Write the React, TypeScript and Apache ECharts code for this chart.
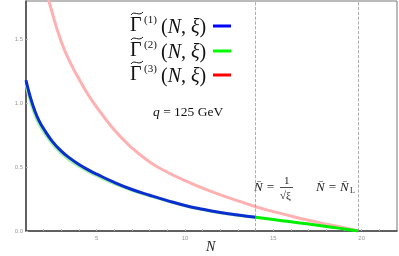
import React, { useEffect, useRef } from "react";
import * as echarts from "echarts";

const xTicks = [5, 10, 15, 20];
const xMinorTicks = [2, 3, 4, 5, 6, 7, 8, 9, 10, 11, 12, 13, 14, 15, 16, 17, 18, 19, 20, 21];
const yTicks = [0, 0.5, 1.0, 1.5];

const gamma1Blue: [number, number][] = [
  [1, 1.18], [1.25, 1.045], [1.5, 0.94], [1.75, 0.86], [2, 0.8], [2.5, 0.7], [3, 0.625], [3.5, 0.568],
  [4, 0.52], [4.5, 0.48], [5, 0.445], [6, 0.38], [7, 0.325], [8, 0.28], [9, 0.238], [10, 0.2],
  [11, 0.17], [12, 0.145], [13, 0.125], [14, 0.107],
];
const gamma2Faded: [number, number][] = [
  [1, 1.15], [1.25, 1.015], [1.5, 0.91], [1.75, 0.833], [2, 0.775], [2.5, 0.68], [3, 0.607], [3.5, 0.552],
  [4, 0.506], [4.5, 0.467], [5, 0.433], [6, 0.37], [7, 0.318], [8, 0.275], [9, 0.235], [10, 0.198],
  [11, 0.168], [12, 0.143], [13, 0.124], [14, 0.107],
];
const gamma2Green: [number, number][] = [
  [14, 0.107], [15, 0.09], [16, 0.072], [17, 0.054], [18, 0.036], [19, 0.016], [19.8, 0],
];
const gamma3Red: [number, number][] = [
  [1, 3.0], [1.5, 2.4], [2, 1.97], [2.5, 1.7], [3, 1.48], [3.5, 1.32], [4, 1.19], [4.5, 1.07],
  [5, 0.97], [6, 0.79], [7, 0.65], [8, 0.54], [9, 0.46], [10, 0.395], [11, 0.335], [12, 0.283],
  [13, 0.236], [14, 0.19], [15, 0.152], [16, 0.117], [17, 0.084], [18, 0.054], [19, 0.025], [19.8, 0],
];
const markerN = [14, 19.8];

const SERIF = "'Liberation Serif', 'DejaVu Serif', serif";

export default function App() {
  const ref = useRef<HTMLDivElement>(null);
  useEffect(() => {
    if (!ref.current) return;
    const chart = echarts.init(ref.current, null, { renderer: "svg" });
    const legendRows = [
      { sup: "(1)", color: "#0000ff", y: 26 },
      { sup: "(2)", color: "#00ff00", y: 51 },
      { sup: "(3)", color: "#ff0000", y: 75 },
    ];
    const graphic: any[] = [];
    legendRows.forEach((r) => {
      graphic.push({
        type: "text", left: 130, top: r.y - 12,
        style: { text: "Γ", font: `20px ${SERIF}`, fill: "#111" },
      });
      graphic.push({
        type: "bezierCurve",
        shape: { x1: 131, y1: r.y - 11, cpx1: 134, cpy1: r.y - 16, cpx2: 139, cpy2: r.y - 9, x2: 143, y2: r.y - 14 },
        style: { stroke: "#111", lineWidth: 1, fill: null },
      });
      graphic.push({
        type: "text", left: 144, top: r.y - 13,
        style: { text: r.sup, font: `11px ${SERIF}`, fill: "#111" },
      });
      graphic.push({
        type: "text", left: 161, top: r.y - 10,
        style: {
          text: "({i|N}, {i|ξ})",
          font: `20px ${SERIF}`, fill: "#111",
          rich: { i: { fontStyle: "italic", fontSize: 20, fontFamily: SERIF, fill: "#111" } },
        },
      });
      graphic.push({
        type: "line",
        shape: { x1: 213, y1: r.y, x2: 231, y2: r.y },
        style: { stroke: r.color, lineWidth: 3 },
      });
    });
    graphic.push({
      type: "text", left: 153, top: 104,
      style: {
        text: "{i|q} = 125 GeV", font: `13.5px ${SERIF}`, fill: "#111",
        rich: { i: { fontStyle: "italic", fontSize: 13.5, fontFamily: SERIF } },
      },
    });
    graphic.push({
      type: "text", left: 206, top: 239,
      style: { text: "N", font: `italic 14px ${SERIF}`, fill: "#222" },
    });
    // N̄ = 1/√ξ
    graphic.push({
      type: "text", left: 254, top: 180,
      style: { text: "N̄ =", font: `italic 13px ${SERIF}`, fill: "#222" },
    });
    graphic.push({
      type: "text", left: 284, top: 174,
      style: { text: "1", font: `11px ${SERIF}`, fill: "#222" },
    });
    graphic.push({
      type: "line", shape: { x1: 280, y1: 187.5, x2: 293, y2: 187.5 },
      style: { stroke: "#222", lineWidth: 0.8 },
    });
    graphic.push({
      type: "text", left: 280, top: 189,
      style: { text: "√ξ", font: `11px ${SERIF}`, fill: "#222" },
    });
    // N̄ = N̄L
    graphic.push({
      type: "text", left: 316, top: 180,
      style: { text: "N̄ = N̄", font: `italic 13px ${SERIF}`, fill: "#222" },
    });
    graphic.push({
      type: "text", left: 350, top: 186,
      style: { text: "L", font: `8px ${SERIF}`, fill: "#222" },
    });

    chart.setOption({
      animation: false,
      grid: { left: 26, right: 2, top: 1, bottom: 25, show: true, borderColor: "#777", borderWidth: 1 },
      xAxis: {
        type: "value", min: 1, max: 22,
        axisLine: { show: true, onZero: false, lineStyle: { color: "#444", width: 1.5 } },
        axisTick: { show: true, inside: true, length: 2, customValues: xMinorTicks, lineStyle: { color: "#bbb" } },
        axisLabel: { customValues: xTicks, fontSize: 6, color: "#999", margin: 4 },
        splitLine: { show: false },
      },
      yAxis: {
        type: "value", min: 0, max: 1.8,
        axisLine: { show: true, lineStyle: { color: "#444", width: 1.5 } },
        axisTick: { show: true, inside: true, length: 2, customValues: yTicks, lineStyle: { color: "#bbb" } },
        axisLabel: { customValues: yTicks, fontSize: 6, color: "#999", margin: 3, formatter: (v: number) => v.toFixed(1) },
        splitLine: { show: false },
      },
      series: [
        {
          type: "line", data: gamma3Red, smooth: true, symbol: "none", clip: true,
          lineStyle: { color: "#ffb0b0", width: 3 },
          markLine: {
            silent: true, symbol: "none", label: { show: false },
            lineStyle: { color: "#999", type: "dashed", width: 0.8 },
            data: markerN.map((n) => ({ xAxis: n })),
          },
        },
        { type: "line", data: gamma2Faded, smooth: true, symbol: "none", lineStyle: { color: "#a8f2a8", width: 3 } },
        { type: "line", data: gamma2Green, smooth: true, symbol: "none", lineStyle: { color: "#00ee00", width: 3 } },
        { type: "line", data: gamma1Blue, smooth: true, symbol: "none", lineStyle: { color: "#0a2fd0", width: 3 } },
      ],
      graphic,
    });
    return () => chart.dispose();
  }, []);
  return <div ref={ref} style={{ position: "fixed", left: 0, top: 0, width: 399, height: 256 }} />;
}
